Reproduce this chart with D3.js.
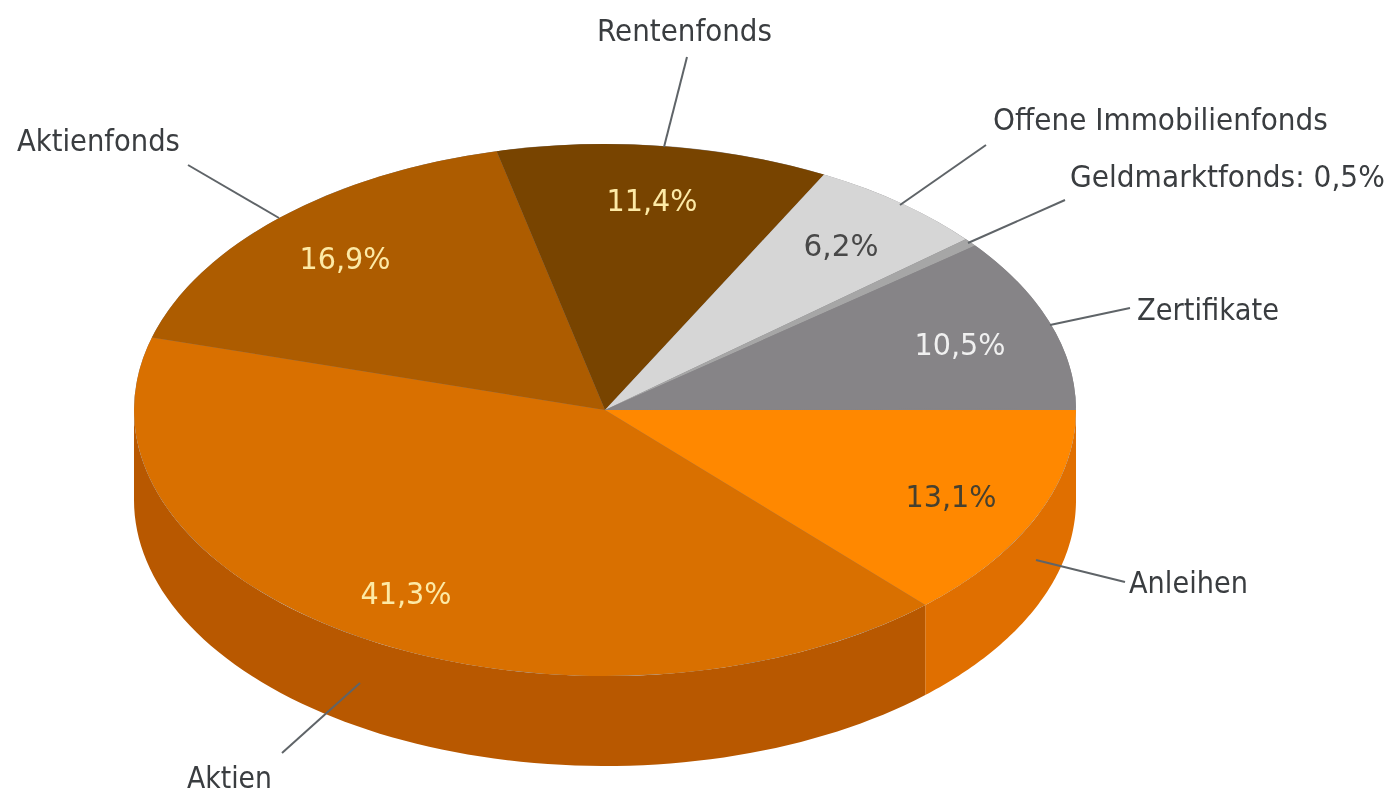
<!DOCTYPE html>
<html>
<head>
<meta charset="utf-8">
<title>Pie</title>
<script src="https://cdnjs.cloudflare.com/ajax/libs/d3/7.8.5/d3.min.js"></script>
<style>
html, body { margin: 0; padding: 0; background: #fff; }
svg { display: block; }
text { font-family: "DejaVu Sans", sans-serif; filter: blur(0.5px); }
</style>
</head>
<body>
<div id="chart"></div>
<script>
// data, clockwise from 3 o'clock
var categories = ["Anleihen", "Aktien", "Aktienfonds", "Rentenfonds", "Offene Immobilienfonds", "Geldmarktfonds", "Zertifikate"];
var values = [13.1, 41.3, 16.9, 11.4, 6.2, 0.5, 10.5];
var valueLabels = ["13,1%", "41,3%", "16,9%", "11,4%", "6,2%", "", "10,5%"];
var calloutLabels = ["Anleihen", "Aktien", "Aktienfonds", "Rentenfonds", "Offene Immobilienfonds", "Geldmarktfonds: 0,5%", "Zertifikate"];

var topColors = ["#ff8800", "#d97000", "#ad5c00", "#784400", "#d6d6d6", "#a6a6a6", "#868487"];
var sideColors = ["#e06f00", "#b85800"];
var valueColors = ["#46402f", "#fdeaa6", "#fdeaa6", "#fdeaa6", "#484848", "#fff", "#f0f0f0"];

function init() {
	var w = 1391;
	var h = 795;

	// ellipse of the top face
	var cx = 605;
	var cy = 410;
	var rx = 471;
	var ry = 266;
	var depth = 90;

	// percent label centre and callout layout, in slice order
	var valuePos = [[951, 497], [406, 594], [345, 259], [652, 201], [841, 246], null, [960, 345]];
	var callouts = [
		{x: 1129, y: 593, len: 119, line: [[1125, 582], [1036, 560]]},
		{x: 187, y: 787.5, len: 85, line: [[282, 753], [360, 683]]},
		{x: 17, y: 151, len: 163, line: [[188, 165], [279, 218]]},
		{x: 597, y: 41, len: 175, line: [[687, 57], [664, 147]]},
		{x: 993, y: 130, len: 335, line: [[986, 145], [900, 205]]},
		{x: 1070, y: 187, len: 315, line: [[1065, 200], [968, 243]]},
		{x: 1137, y: 320, len: 142, line: [[1130, 308], [1050, 325]]}
	];

	var svg = d3.select("#chart")
			.append("svg")
			.attr("width", w)
			.attr("height", h);

	// the rounded shares add up to 99.9, so angles are taken per 100
	var pie = d3.pie()
			.sort(null)
			.startAngle(Math.PI / 2)
			.endAngle(Math.PI / 2 + 2 * Math.PI * d3.sum(values) / 100);
	var arcs = pie(values);

	// d3 angles: 0 at 12 o'clock, going clockwise
	var px = function(a) { return cx + rx * Math.sin(a); };
	var py = function(a) { return cy - ry * Math.cos(a); };

	// outer wall, only the front half of the ellipse can be seen
	function wall(a0, a1) {
		var n = 80;
		var top = d3.range(n + 1).map(function(i) {
			var a = a0 + (a1 - a0) * i / n;
			return [px(a), py(a)];
		});
		var bottom = top.slice().reverse().map(function(p) {
			return [p[0], p[1] + depth];
		});
		return d3.line()(top.concat(bottom)) + "Z";
	}

	svg.selectAll("path.wall")
		.data(arcs.slice(0, 2))
		.enter()
		.append("path")
		.attr("class", "wall")
		.attr("d", function(d) {
			return wall(d.startAngle, Math.min(d.endAngle, Math.PI * 1.5));
		})
		.attr("fill", function(d, i) { return sideColors[i]; });

	// closes the rounding gap behind the last slice
	svg.append("ellipse")
		.attr("cx", cx)
		.attr("cy", cy)
		.attr("rx", rx)
		.attr("ry", ry)
		.attr("fill", topColors[topColors.length - 1]);

	// top face, unit circle squashed to the ellipse
	var arc = d3.arc().innerRadius(0).outerRadius(1);

	svg.append("g")
		.attr("transform", "translate(" + cx + "," + cy + ") scale(" + rx + "," + ry + ")")
		.selectAll("path")
		.data(arcs)
		.enter()
		.append("path")
		.attr("d", arc)
		.attr("fill", function(d, i) { return topColors[i]; });

	// callout lines
	svg.selectAll("line")
		.data(callouts)
		.enter()
		.append("line")
		.attr("x1", function(d) { return d.line[0][0]; })
		.attr("y1", function(d) { return d.line[0][1]; })
		.attr("x2", function(d) { return d.line[1][0]; })
		.attr("y2", function(d) { return d.line[1][1]; })
		.attr("stroke", "#5f6468")
		.attr("stroke-width", 2);

	// callout names, squeezed with a transform to the measured width
	svg.selectAll("text.callout")
		.data(callouts)
		.enter()
		.append("text")
		.attr("class", "callout")
		.attr("font-size", "31px")
		.attr("fill", "#3a3d40")
		.text(function(d, i) { return calloutLabels[i]; })
		.attr("transform", function(d) {
			var sx = d.len / this.getComputedTextLength();
			return "translate(" + d.x + "," + d.y + ") scale(" + sx + ",1)";
		});

	// percent labels
	svg.selectAll("text.value")
		.data(valueLabels)
		.enter()
		.filter(function(d) { return d !== ""; })
		.append("text")
		.attr("class", "value")
		.attr("text-anchor", "middle")
		.attr("font-size", "31px")
		.attr("fill", function(d) { return valueColors[valueLabels.indexOf(d)]; })
		.text(function(d) { return d; })
		.attr("transform", function(d) {
			var p = valuePos[valueLabels.indexOf(d)];
			var sx = (d.length === 4 ? 75 : 91) / this.getComputedTextLength();
			return "translate(" + p[0] + "," + (p[1] + 10) + ") scale(" + sx + ",1)";
		});
}

window.onload = init;
</script>
</body>
</html>
